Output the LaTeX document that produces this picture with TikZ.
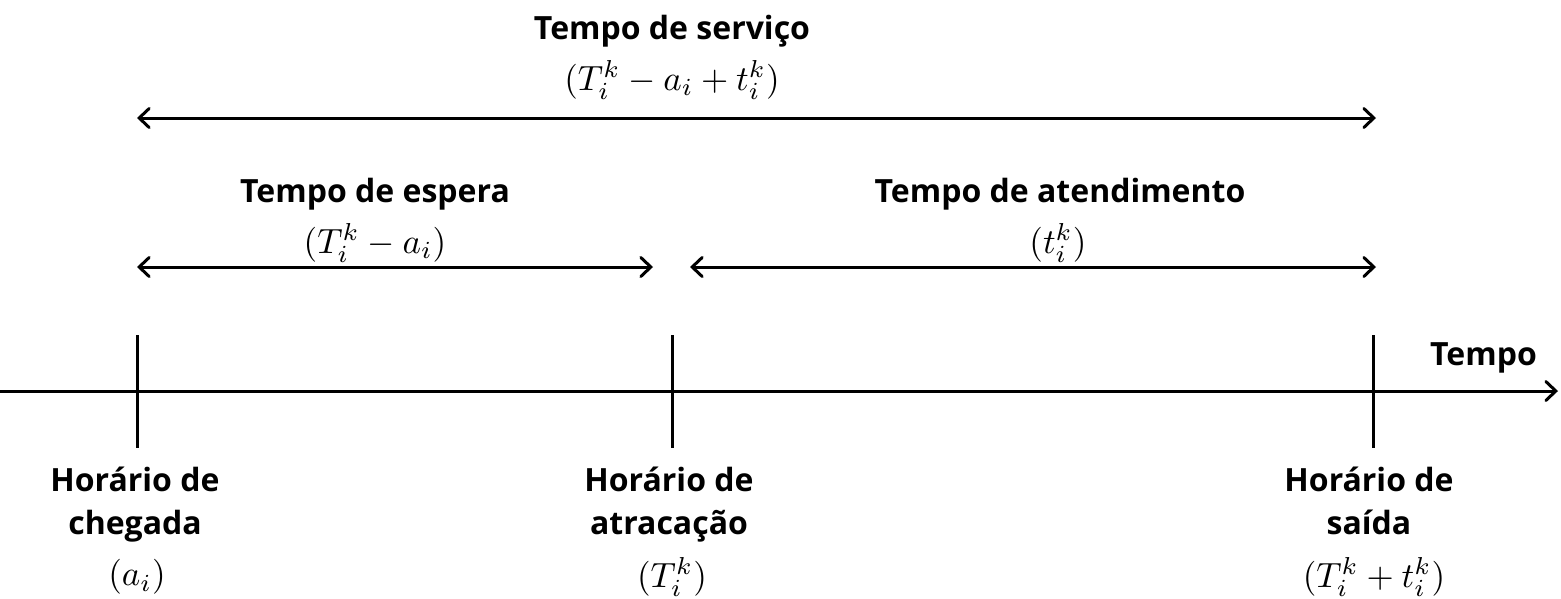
\documentclass[tikz,border=0pt]{standalone}
\usepackage{fontspec}
\setmainfont{Open Sans}
\usetikzlibrary{arrows.meta}
\tikzset{
  label/.style = {font=\fontsize{32}{43}\selectfont\bfseries, align=center, inner sep=0pt},
  formula/.style = {scale=3.5, inner sep=0pt},
  span/.style = {line width=3pt, {Straight Barb[length=10pt,width=19pt,line cap=round]}-{Straight Barb[length=10pt,width=19pt,line cap=round]}},
  tick/.style = {line width=3pt}
}
\begin{document}
\begin{tikzpicture}[x=1pt, y=-1pt]
\useasboundingbox (0,0) rectangle (1561,598);
% axis
\coordinate (axisstart) at (0,391);
\coordinate (axisend) at (1558,391);
\draw [line width=3pt, -{Straight Barb[length=10pt,width=19pt,line cap=round]}] (axisstart) -- (axisend);
\node [label, anchor=east] (tempo) at (1537,358) {Tempo};
% ticks
\foreach \name/\x in {chegada/137, atracacao/672, saida/1373} {
  \coordinate (\name top) at (\x,335);
  \coordinate (\name bot) at (\x,448);
  \draw [tick] (\name top) -- (\name bot);
}
\node [label, anchor=north] (lchegada) at (135,467) {Horário de\\chegada};
\node [formula] (fchegada) at (137,577) {$(a_i)$};
\node [label, anchor=north] (latracacao) at (669,467) {Horário de\\atracação};
\node [formula] (fatracacao) at (672,577) {$(T_i^k)$};
\node [label, anchor=north] (lsaida) at (1369,467) {Horário de\\saída};
\node [formula] (fsaida) at (1374,577) {$(T_i^k + t_i^k)$};
% spans
\coordinate (servA) at (137,118);
\coordinate (servB) at (1376,118);
\draw [span] (servA) -- (servB);
\node [label] (lservico) at (672,31) {Tempo de serviço};
\node [formula] (fservico) at (672,80) {$(T_i^k - a_i + t_i^k)$};
\coordinate (espA) at (137,267);
\coordinate (espB) at (653,267);
\draw [span] (espA) -- (espB);
\node [label] (lespera) at (375,194) {Tempo de espera};
\node [formula] (fespera) at (375,243) {$(T_i^k - a_i)$};
\coordinate (atdA) at (690,267);
\coordinate (atdB) at (1376,267);
\draw [span] (atdA) -- (atdB);
\node [label] (latend) at (1060,194) {Tempo de atendimento};
\node [formula] (fatend) at (1058,243) {$(t_i^k)$};
\end{tikzpicture}
\end{document}
